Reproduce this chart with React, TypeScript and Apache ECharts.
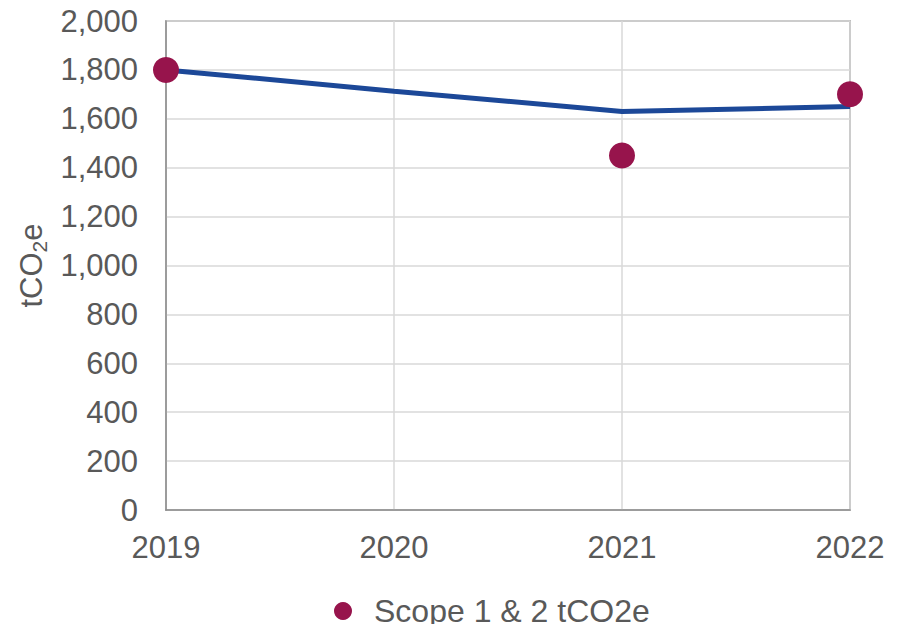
import React, { useEffect, useRef } from "react";
import * as echarts from "echarts";

const years = ["2019", "2020", "2021", "2022"];
const trendValues = [1800, 1713, 1630, 1650];
const scopeValues: (number | null)[] = [1800, null, 1450, 1700];
const yTicks = { min: 0, max: 2000, interval: 200 };

const TEXT = "#595959";
const FONT = "'Liberation Sans', Arial, sans-serif";
const FS = 31;

export default function App() {
  const ref = useRef<HTMLDivElement>(null);
  useEffect(() => {
    if (!ref.current) return;
    const chart = echarts.init(ref.current, undefined, { renderer: "svg" });
    chart.setOption({
      animation: false,
      backgroundColor: "#ffffff",
      textStyle: { fontFamily: FONT },
      grid: {
        left: 166,
        right: 54,
        top: 21,
        bottom: 122,
        show: true,
        borderColor: "#8c8c8c",
        borderWidth: 1.5,
        containLabel: false,
      },
      legend: {
        data: ["Scope 1 & 2 tCO2e"],
        left: 334,
        top: 595,
        icon: "circle",
        itemWidth: 18,
        itemHeight: 18,
        itemGap: 10,
        padding: 0,
        textStyle: { color: TEXT, fontSize: 32, fontFamily: FONT, padding: [0, 0, 0, 17] },
      },
      xAxis: {
        type: "category",
        data: years,
        boundaryGap: false,
        axisLine: { lineStyle: { color: "#8c8c8c", width: 1.5 } },
        axisTick: { show: false },
        axisLabel: { color: TEXT, fontSize: FS, margin: 22, fontFamily: FONT },
        splitLine: { show: true, lineStyle: { color: "#d9d9d9", width: 1.5 } },
      },
      yAxis: {
        type: "value",
        min: yTicks.min,
        max: yTicks.max,
        interval: yTicks.interval,
        name: "{a|tCO}{s|2}{a|e}",
        nameLocation: "middle",
        nameGap: 112,
        nameRotate: 90,
        nameTextStyle: {
          color: TEXT,
          rich: {
            a: { fontSize: FS, color: TEXT, fontFamily: FONT, lineHeight: 36 },
            s: { fontSize: 21, color: TEXT, fontFamily: FONT, lineHeight: 36, verticalAlign: "bottom", padding: [14, 0, 0, 0] },
          },
        },
        axisLine: { show: true, lineStyle: { color: "#8c8c8c", width: 1.5 } },
        axisTick: { show: false },
        axisLabel: {
          color: TEXT,
          fontSize: FS,
          margin: 28,
          fontFamily: FONT,
          formatter: (v: number) => v.toLocaleString("en-US"),
        },
        splitLine: { show: true, lineStyle: { color: "#d9d9d9", width: 1.5 } },
      },
      series: [
        {
          name: "Trend",
          type: "line",
          data: trendValues,
          showSymbol: false,
          symbol: "none",
          lineStyle: { color: "#1c4898", width: 5 },
          itemStyle: { color: "#1c4898" },
          z: 2,
        },
        {
          name: "Scope 1 & 2 tCO2e",
          type: "scatter",
          data: scopeValues,
          symbol: "circle",
          symbolSize: 26,
          itemStyle: { color: "#97144c", opacity: 1 },
          z: 3,
        },
      ],
    });
    return () => chart.dispose();
  }, []);
  return <div ref={ref} style={{ width: 904, height: 632, margin: -8 }} />;
}
